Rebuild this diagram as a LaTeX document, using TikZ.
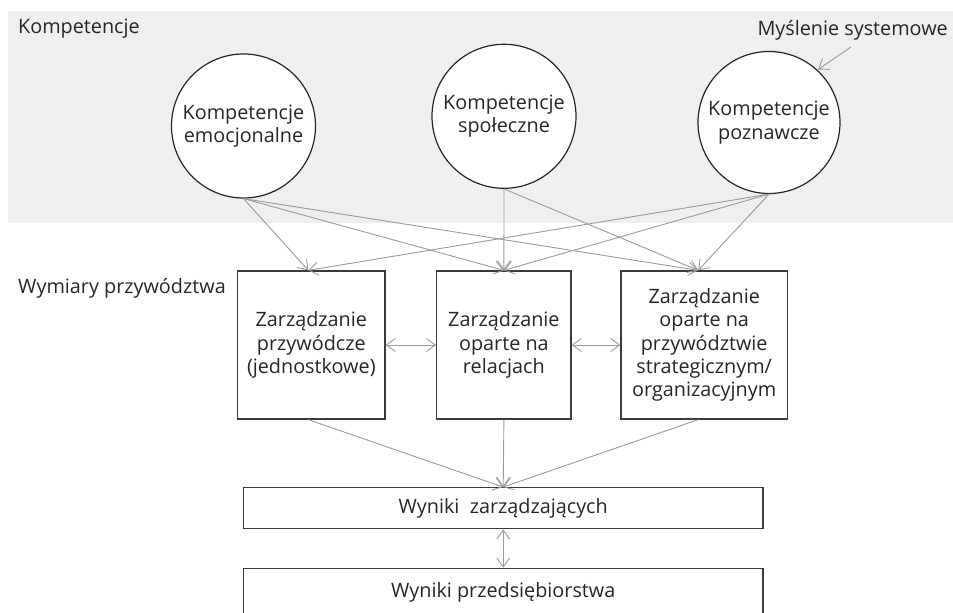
\documentclass[tikz,border=0pt]{standalone}
\usepackage{fontspec}
\setmainfont{Open Sans}
\usetikzlibrary{arrows.meta}
\definecolor{panel}{HTML}{EFEFEF}
\definecolor{link}{HTML}{9A9A9A}
\definecolor{frame}{HTML}{3A3A3A}
\definecolor{ink}{HTML}{262626}
\tikzset{
  every node/.style={text=ink, font=\fontsize{19.8}{23.3}\selectfont},
  comp/.style={circle, draw=black!85, line width=1.2pt, fill=white,
    minimum size=144pt, inner sep=0pt, align=center},
  dimbox/.style={rectangle, draw=frame, line width=1.3pt, fill=white,
    inner sep=0pt, align=center},
  resbox/.style={rectangle, draw=frame, line width=1.3pt, fill=white,
    minimum width=519.7pt, inner sep=0pt},
  flow/.style={draw=link, line width=0.9pt,
    -{Straight Barb[length=9pt,width=13pt]}},
  both/.style={draw=link, line width=0.9pt,
    {Straight Barb[length=9pt,width=13pt]}-{Straight Barb[length=9pt,width=13pt]}},
  caption/.style={anchor=west, inner sep=0pt}
}
\begin{document}
\begin{tikzpicture}[x=1pt, y=-1pt]
  \useasboundingbox (0,0) rectangle (953,613);
  \clip (0,0) rectangle (953,613);

  % shaded band behind the competence circles
  \fill[panel] (8,11) rectangle (953,222.7);

  \node[caption] (tComp) at (18,29) {Kompetencje};
  \node[caption, anchor=east] (tSys) at (948,30) {Myślenie systemowe};
  \node[caption] (tDim) at (18,288) {Wymiary przywództwa};

  % competences
  \node[comp] (cEmo) at (243.5,126) {Kompetencje\\emocjonalne};
  \node[comp] (cSoc) at (504,116.3) {Kompetencje\\społeczne};
  \node[comp, minimum size=142pt] (cCog) at (769,122.5) {Kompetencje\\poznawcze};

  % leadership dimensions
  \node[dimbox, minimum width=147.3pt, minimum height=148pt] (b1) at (311.3,345)
    {Zarządzanie\\przywódcze\\(jednostkowe)};
  \node[dimbox, minimum width=134.3pt, minimum height=148pt] (b2) at (503.9,345)
    {Zarządzanie\\oparte na\\relacjach};
  \node[dimbox, minimum width=166.3pt, minimum height=148pt] (b3) at (704.2,345)
    {Zarządzanie\\oparte na\\przywództwie\\strategicznym/\\organizacyjnym};

  % results
  \node[resbox, minimum height=41pt] (r1) at (503.2,508.2) {Wyniki\ \ zarządzających};
  \node[resbox, minimum height=70pt] (r2) at (503.2,603.3) {};
  \node (r2t) at (503.2,592) {Wyniki przedsiębiorstwa};

  % attachment points on the dimension boxes
  \coordinate (b1t) at ([xshift=-3pt]b1.north);
  \coordinate (b3t) at ([xshift=-6pt]b3.north);
  \coordinate (b1b) at ([xshift=-3pt]b1.south);
  \coordinate (b3b) at ([xshift=-6pt]b3.south);
  \coordinate (sysTail) at (851,47);
  \coordinate (sysHead) at (818,69.5);

  \draw[flow] (sysTail) -- (sysHead);

  \draw[flow] (cEmo.south) -- (b1t);
  \draw[flow] (cEmo.south) -- (b2.north);
  \draw[flow] (cEmo.south) -- (b3t);
  \draw[flow] (cSoc.south) -- (b2.north);
  \draw[flow] (cSoc.south) -- (b3t);
  \draw[flow] (cCog.south) -- (b1t);
  \draw[flow] (cCog.south) -- (b2.north);
  \draw[flow] (cCog.south) -- (b3t);

  \draw[both] (b1.east) -- (b2.west);
  \draw[both] (b2.east) -- (b3.west);

  \draw[flow] (b1b) -- (r1.north);
  \draw[flow] (b2.south) -- (r1.north);
  \draw[flow] (b3b) -- (r1.north);

  \draw[both] (r1.south) -- (r2.north);
\end{tikzpicture}
\end{document}
